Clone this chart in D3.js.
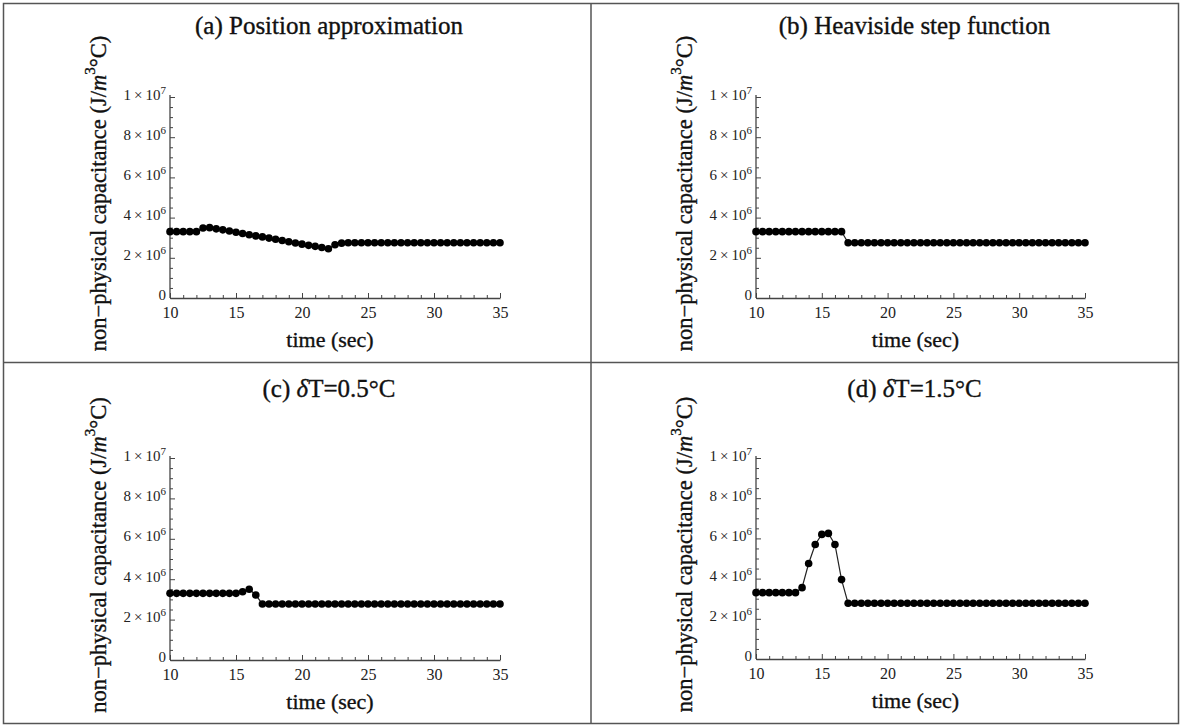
<!DOCTYPE html>
<html>
<head>
<meta charset="utf-8">
<script src="https://cdn.jsdelivr.net/npm/d3@7"></script>
<style>
  html, body { margin: 0; padding: 0; background: #fff; }
  svg { display: block; }
  text { font-family: "Liberation Serif", "Times New Roman", serif; }
</style>
</head>
<body>
<svg id="chart" width="1182" height="727"></svg>
<script>
// ---- data (values in units of 10^6 J/m^3°C) ----
const time = [10,10.5,11,11.5,12,12.5,13,13.5,14,14.5,15,15.5,16,16.5,17,17.5,18,18.5,19,19.5,20,20.5,21,21.5,22,22.5,23,23.5,24,24.5,25,25.5,26,26.5,27,27.5,28,28.5,29,29.5,30,30.5,31,31.5,32,32.5,33,33.5,34,34.5,35];

const seriesA = [3.3,3.3,3.3,3.3,3.3,3.48,3.5,3.44,3.39,3.33,3.27,3.21,3.15,3.09,3.04,2.98,2.92,2.86,2.80,2.74,2.68,2.62,2.57,2.51,2.45,2.65,2.73,2.75,2.75,2.75,2.75,2.75,2.75,2.75,2.75,2.75,2.75,2.75,2.75,2.75,2.75,2.75,2.75,2.75,2.75,2.75,2.75,2.75,2.75,2.75,2.75];

const seriesB = [3.3,3.3,3.3,3.3,3.3,3.3,3.3,3.3,3.3,3.3,3.3,3.3,3.3,3.3,2.75,2.75,2.75,2.75,2.75,2.75,2.75,2.75,2.75,2.75,2.75,2.75,2.75,2.75,2.75,2.75,2.75,2.75,2.75,2.75,2.75,2.75,2.75,2.75,2.75,2.75,2.75,2.75,2.75,2.75,2.75,2.75,2.75,2.75,2.75,2.75,2.75];

const seriesC = [3.3,3.3,3.3,3.3,3.3,3.3,3.3,3.3,3.3,3.3,3.3,3.38,3.5,3.22,2.77,2.77,2.77,2.77,2.77,2.77,2.77,2.77,2.77,2.77,2.77,2.77,2.77,2.77,2.77,2.77,2.77,2.77,2.77,2.77,2.77,2.77,2.77,2.77,2.77,2.77,2.77,2.77,2.77,2.77,2.77,2.77,2.77,2.77,2.77,2.77,2.77];

const seriesD = [3.3,3.3,3.3,3.3,3.3,3.3,3.3,3.55,4.75,5.7,6.2,6.25,5.7,3.95,2.77,2.77,2.77,2.77,2.77,2.77,2.77,2.77,2.77,2.77,2.77,2.77,2.77,2.77,2.77,2.77,2.77,2.77,2.77,2.77,2.77,2.77,2.77,2.77,2.77,2.77,2.77,2.77,2.77,2.77,2.77,2.77,2.77,2.77,2.77,2.77,2.77];

const titles = ["(a) Position approximation", "(b) Heaviside step function", "(c) δT=0.5°C", "(d) δT=1.5°C"];

const xTicks = [10,15,20,25,30,35];
const xMinorTicks = [11,12,13,14,16,17,18,19,21,22,23,24,26,27,28,29,31,32,33,34];
const yTicks = [0,2,4,6,8,10];
const yMinorTicks = [0.5,1,1.5,2.5,3,3.5,4.5,5,5.5,6.5,7,7.5,8.5,9,9.5];
const yTickMantissa = ["0","2","4","6","8","1"];
const yTickExponent = ["","6","6","6","6","7"];
const xDomain = [10,35];
const yDomain = [0,10];

// ---- layout ----
const svg = d3.select("#chart");

// table frame
const frame = svg.append("g").attr("stroke","#555").attr("stroke-width",1.5).attr("fill","none");
frame.append("rect").attr("x",3.5).attr("y",3.5).attr("width",1175).attr("height",720);
frame.append("line").attr("x1",591).attr("x2",591).attr("y1",3.5).attr("y2",723.5);
frame.append("line").attr("x1",3.5).attr("x2",1178.5).attr("y1",362.5).attr("y2",362.5);

const panels = [
  {title: titles[0], values: seriesA, left:170, right:500, top:97, bottom:298, titleY:28},
  {title: titles[1], values: seriesB, left:756, right:1085, top:97, bottom:298, titleY:28},
  {title: titles[2], values: seriesC, left:170, right:500, top:458, bottom:660, titleY:391},
  {title: titles[3], values: seriesD, left:756, right:1085, top:458, bottom:659, titleY:391}
];

const heavy = sel => sel.attr("stroke","#111").attr("stroke-width",0.35);

panels.forEach(p => {
  const g = svg.append("g");
  const x = d3.scaleLinear().domain(xDomain).range([p.left, p.right]);
  const y = d3.scaleLinear().domain(yDomain).range([p.bottom, p.top]);

  // title
  const tt = g.append("text")
    .attr("x", (p.left + p.right)/2 - 6)
    .attr("y", p.titleY)
    .attr("text-anchor","middle")
    .attr("dominant-baseline","middle")
    .attr("font-size", 25)
    .attr("fill","#111");
  heavy(tt);
  const m = p.title.match(/^(\(\w\) )δ(.*)$/);
  if (m) {
    tt.append("tspan").text(m[1]);
    tt.append("tspan").attr("font-style","italic").text("δ");
    tt.append("tspan").text(m[2]);
  } else {
    tt.text(p.title);
  }

  // minor ticks
  g.append("g").attr("transform",`translate(0,${p.bottom})`)
    .call(d3.axisBottom(x).tickValues(xMinorTicks).tickSizeInner(-3).tickSizeOuter(0).tickFormat(""))
    .call(s => s.select(".domain").remove())
    .selectAll("line").attr("stroke","#444");
  g.append("g").attr("transform",`translate(${p.left},0)`)
    .call(d3.axisLeft(y).tickValues(yMinorTicks).tickSizeInner(-3).tickSizeOuter(0).tickFormat(""))
    .call(s => s.select(".domain").remove())
    .selectAll("line").attr("stroke","#444");

  // major x axis
  const gx = g.append("g").attr("transform",`translate(0,${p.bottom})`)
    .call(d3.axisBottom(x).tickValues(xTicks).tickSizeInner(-5).tickSizeOuter(0).tickPadding(9));
  gx.select(".domain").attr("stroke","#444").attr("stroke-width",1.3);
  gx.selectAll(".tick line").attr("stroke","#444");
  gx.selectAll(".tick text").attr("font-size",16).attr("fill","#222");

  // major y axis
  const gy = g.append("g").attr("transform",`translate(${p.left},0)`)
    .call(d3.axisLeft(y).tickValues(yTicks).tickSizeInner(-5).tickSizeOuter(0).tickPadding(4).tickFormat(""));
  gy.select(".domain").attr("stroke","#444").attr("stroke-width",1.3)
    .attr("d", `M0,${p.top-2}V${p.bottom}`);
  gy.selectAll(".tick line").attr("stroke","#444");
  gy.selectAll(".tick text").each(function(d){
    const idx = yTicks.indexOf(d);
    const t = d3.select(this)
      .attr("font-size",15).attr("fill","#222")
      .attr("dy", null).attr("y", d === 0 ? -2 : -1)
      .attr("dominant-baseline","middle");
    if (yTickExponent[idx] === "") {
      t.text(yTickMantissa[idx]);
    } else {
      t.append("tspan").text(yTickMantissa[idx] + "\u2009×\u200910");
      t.append("tspan").attr("dy",-6).attr("font-size",11).text(yTickExponent[idx]);
    }
  });

  // y label
  const yl = g.append("text")
    .attr("transform",`translate(${p.left-69},${(p.top+p.bottom)/2 - 4}) rotate(-90)`)
    .attr("text-anchor","middle")
    .attr("dominant-baseline","middle")
    .attr("font-size",22.5)
    .attr("fill","#111");
  heavy(yl);
  yl.append("tspan").text("non−physical capacitance (J/");
  yl.append("tspan").attr("font-style","italic").text("m");
  yl.append("tspan").attr("dy",-9).attr("font-size",15).text("3");
  yl.append("tspan").attr("dy",9).text("°C)");

  // x label
  const xl = g.append("text")
    .attr("x",(p.left+p.right)/2 - 5)
    .attr("y",p.bottom + 44)
    .attr("text-anchor","middle")
    .attr("dominant-baseline","middle")
    .attr("font-size",22)
    .attr("fill","#111")
    .text("time (sec)");
  heavy(xl);

  // data line + points
  const pts = time.map((t,i) => [t, p.values[i]]);
  g.append("path")
    .datum(pts)
    .attr("fill","none")
    .attr("stroke","#222")
    .attr("stroke-width",1.2)
    .attr("d", d3.line().x(d => x(d[0])).y(d => y(d[1])));
  g.append("g").selectAll("circle")
    .data(pts).join("circle")
    .attr("cx", d => x(d[0]))
    .attr("cy", d => y(d[1]))
    .attr("r", 3.8)
    .attr("fill","#000");
});
</script>
</body>
</html>
